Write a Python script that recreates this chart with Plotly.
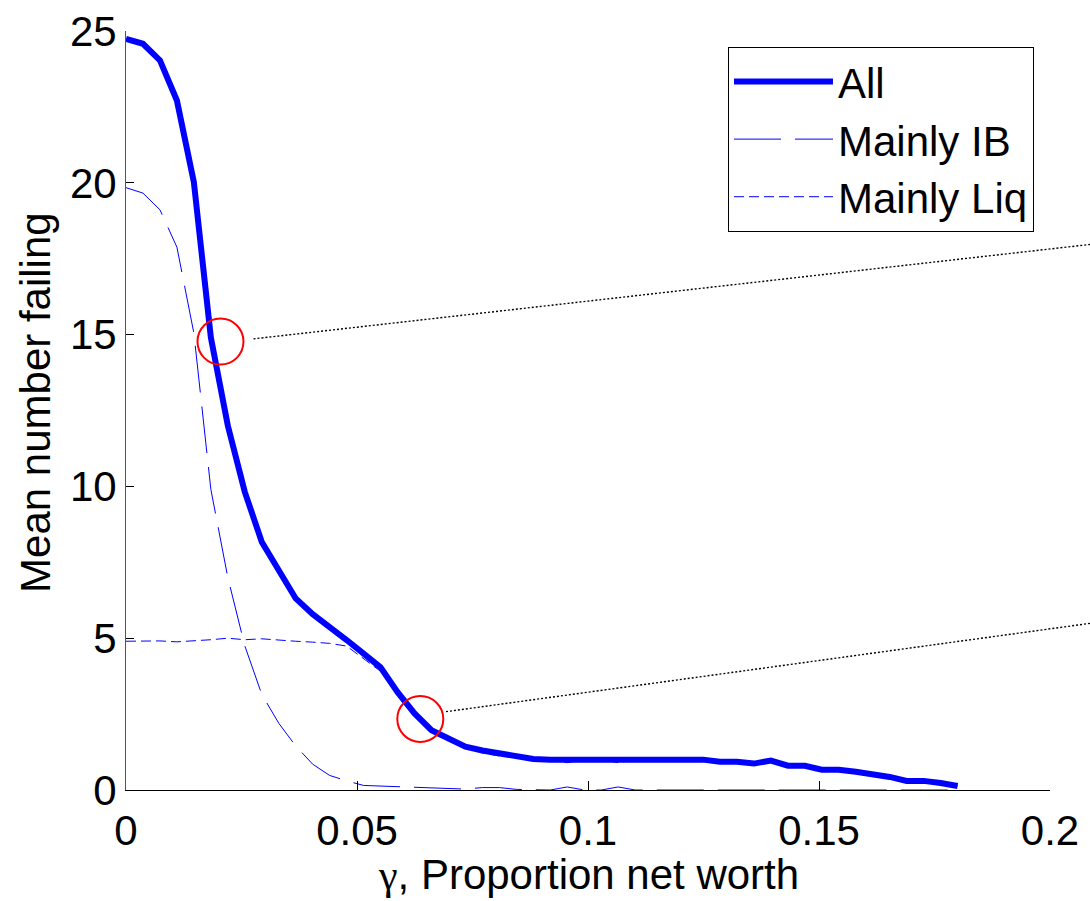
import plotly.graph_objects as go

# ---- data ----
gamma = [0.0, 0.00367, 0.00735, 0.01102, 0.01469, 0.01837, 0.02204, 0.02571, 0.02939, 0.03306,
         0.03673, 0.04041, 0.04408, 0.04776, 0.05143, 0.05510, 0.05878, 0.06245, 0.06612, 0.06980,
         0.07347, 0.07714, 0.08082, 0.08449, 0.08816, 0.09184, 0.09551, 0.09918, 0.10286, 0.10653,
         0.11020, 0.11388, 0.11755, 0.12122, 0.12490, 0.12857, 0.13224, 0.13592, 0.13959, 0.14327,
         0.14694, 0.15061, 0.15429, 0.15796, 0.16163, 0.16531, 0.16898, 0.17265, 0.17633, 0.18000]

all_fail = [24.74, 24.58, 24.03, 22.71, 20.02, 14.90, 12.00, 9.82, 8.17, 7.20,
            6.31, 5.79, 5.38, 4.94, 4.49, 4.04, 3.22, 2.52, 1.97, 1.70,
            1.43, 1.30, 1.20, 1.10, 1.02, 1.00, 1.00, 1.00, 1.00, 1.00,
            1.00, 1.00, 1.00, 1.00, 1.00, 0.93, 0.93, 0.87, 0.97, 0.80,
            0.80, 0.67, 0.67, 0.60, 0.53, 0.43, 0.30, 0.30, 0.23, 0.13]

mainly_ib = [19.84, 19.66, 19.11, 17.88, 15.05, 9.90, 7.00, 4.75, 3.15, 2.20,
             1.45, 0.85, 0.48, 0.30, 0.15, 0.13, 0.10, 0.07, 0.05, 0.04,
             0.03, 0.08, 0.08, 0.02, 0.00, 0.00, 0.10, 0.00, 0.00, 0.10,
             0.00, 0.00, 0.00, 0.00, 0.00, 0.00, 0.00, 0.00, 0.00, 0.00,
             0.00, 0.00, 0.00, 0.00, 0.00, 0.00, 0.00, 0.00, 0.00, 0.00]

mainly_liq = [4.90, 4.90, 4.91, 4.88, 4.91, 4.95, 5.00, 4.95, 4.98, 4.93,
              4.90, 4.87, 4.83, 4.74, 4.34, 3.91, 3.12, 2.45, 1.92, 1.66,
              1.40, 1.22, 1.12, 1.08, 1.02, 1.00, 0.90, 1.00, 1.00, 0.90,
              1.00, 1.00, 1.00, 1.00, 1.00, 0.93, 0.93, 0.87, 0.97, 0.80,
              0.80, 0.67, 0.67, 0.60, 0.53, 0.43, 0.30, 0.30, 0.23, 0.13]

x_ticks = [0, 0.05, 0.1, 0.15, 0.2]
x_tick_labels = ["0", "0.05", "0.1", "0.15", "0.2"]
y_ticks = [0, 5, 10, 15, 20, 25]
y_tick_labels = ["0", "5", "10", "15", "20", "25"]

# highlighted points (data units) and callout lines towards an off-page inset
circle_x = [0.02045, 0.0637]
circle_y = [14.77, 2.34]
callout_start_x = [0.0276, 0.06926]
callout_start_y = [14.86, 2.58]
callout_end_x = [0.2087, 0.2087]
callout_end_y = [17.97, 5.49]

X_MAX = 0.2
Y_MAX = 25
FONT = "Liberation Sans, Arial, sans-serif"
FS = 42

fig = go.Figure()
fig.add_trace(go.Scatter(x=gamma, y=mainly_liq, mode="lines", name="Mainly Liq",
                         line=dict(color="#0000ff", width=1, dash="10px,5px")))
fig.add_trace(go.Scatter(x=gamma, y=mainly_ib, mode="lines", name="Mainly IB",
                         line=dict(color="#0000ff", width=1, dash="47px,14px")))
fig.add_trace(go.Scatter(x=gamma, y=all_fail, mode="lines", name="All",
                         line=dict(color="#0000ff", width=6)))

shapes = []
for cx, cy in zip(circle_x, circle_y):
    shapes.append(dict(type="circle", xref="x", yref="y", xsizemode="pixel", ysizemode="pixel",
                       xanchor=cx, yanchor=cy, x0=-23, x1=23, y0=-23, y1=23,
                       line=dict(color="#ff0000", width=2)))
for sx, sy, ex, ey in zip(callout_start_x, callout_start_y, callout_end_x, callout_end_y):
    shapes.append(dict(type="line", xref="paper", yref="paper",
                       x0=sx / X_MAX, y0=sy / Y_MAX, x1=ex / X_MAX, y1=ey / Y_MAX,
                       line=dict(color="black", width=1.4, dash="2px,2px")))

annotations = [
    dict(text='<span style="font-family:Liberation Serif">γ</span>, Proportion net worth',
         xref="paper", yref="paper", x=0.5, y=-0.1107, xanchor="center", yanchor="middle",
         showarrow=False, font=dict(family=FONT, size=FS, color="black")),
    dict(text="Mean number failing", xref="paper", yref="paper", x=-0.0974, y=0.51,
         xanchor="center", yanchor="middle", textangle=-90, showarrow=False,
         font=dict(family=FONT, size=FS, color="black")),
]

fig.update_layout(
    width=1090, height=901,
    margin=dict(l=126, r=40, t=31, b=111, autoexpand=False),
    paper_bgcolor="white", plot_bgcolor="white",
    font=dict(family=FONT, size=FS, color="black"),
    showlegend=True,
    legend=dict(x=0.6515, y=0.9793, xanchor="left", yanchor="top",
                bordercolor="black", borderwidth=1, bgcolor="white",
                font=dict(family=FONT, size=FS, color="black"),
                traceorder="reversed", itemwidth=99, tracegroupgap=0),
    shapes=shapes,
    annotations=annotations,
    xaxis=dict(range=[0, X_MAX], tickvals=x_ticks, ticktext=x_tick_labels, automargin=False,
               ticks="inside", ticklen=9, tickcolor="black", showgrid=False, zeroline=False,
               showline=True, linecolor="black", linewidth=1, mirror=False,
               ticklabelstandoff=4),
    yaxis=dict(range=[0, Y_MAX], tickvals=y_ticks, ticktext=y_tick_labels, automargin=False,
               ticks="inside", ticklen=8, tickcolor="black", showgrid=False, zeroline=False,
               showline=True, linecolor="#555555", linewidth=1, mirror=False),
)

fig.write_html("out.html", config={"displayModeBar": False},
               post_script="document.body.style.margin='0';document.body.style.overflow='hidden';")
